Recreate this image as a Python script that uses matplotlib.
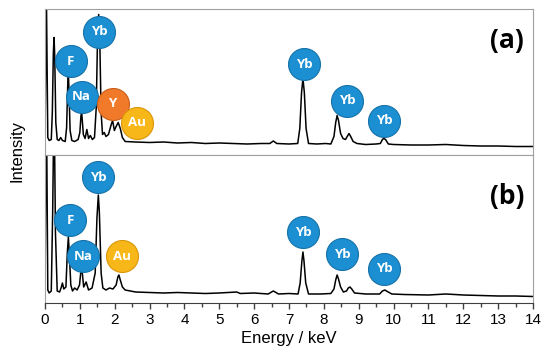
import matplotlib
matplotlib.use("Agg")
import matplotlib.pyplot as plt

# spectrum (a): energy (keV) and intensity (arb.)
energy_a = [0.00, 0.04, 0.08, 0.12, 0.18, 0.21, 0.24, 0.26, 0.28, 0.31, 0.35, 0.40, 0.45, 0.50,
            0.58, 0.62, 0.65, 0.67, 0.69, 0.72, 0.77, 0.85, 0.95, 1.00, 1.03, 1.05, 1.07, 1.10,
            1.15, 1.20, 1.25, 1.30, 1.36, 1.42, 1.47, 1.51, 1.54, 1.57, 1.61, 1.65, 1.70,
            1.75, 1.82, 1.90, 1.94, 1.99, 2.04, 2.10, 2.16, 2.22, 2.30, 2.60, 3.00, 3.40,
            3.80, 4.20, 4.60, 5.00, 5.40, 5.80, 6.20, 6.45, 6.55, 6.65, 7.00, 7.25, 7.31,
            7.36, 7.40, 7.44, 7.49, 7.56, 7.80, 8.05, 8.20, 8.29, 8.34, 8.38, 8.42, 8.48,
            8.55, 8.62, 8.67, 8.72, 8.77, 8.84, 8.95, 9.20, 9.50, 9.62, 9.68, 9.72, 9.77,
            9.85, 10.0, 10.5, 11.0, 11.5, 12.0, 12.5, 13.0, 13.5, 14.0]
intensity_a = [0, 150, 5, 2, 3, 30, 90, 105, 85, 20, 3, 2, 5, 2,
               1, 15, 55, 70, 50, 12, 2, 1, 3, 10, 26, 31, 22, 8,
               4, 13, 4, 7, 3, 5, 35, 110, 128, 105, 30, 8, 10,
               6, 8, 18, 22, 12, 16, 20, 14, 5, 1, 0.5, 0, 0.5,
               -0.5, 0, -1, -0.5, -1, -1.5, -1, -1, 1.5, -1, -1.5, -1, 14,
               50, 64, 50, 14, -1, -1.5, -1, -1.5, 6, 20, 27, 22, 9,
               4, 3, 6, 9, 6, 1, -1, -2, -1.5, -1, 3, 4, 3,
               -1.5, -2, -2.5, -2.5, -2, -3, -3.5, -3.5, -4, -4]

# spectrum (b)
energy_b = [0.00, 0.04, 0.08, 0.12, 0.18, 0.22, 0.26, 0.30, 0.35, 0.42, 0.47, 0.50, 0.54,
            0.60, 0.64, 0.67, 0.70, 0.74, 0.79, 0.85, 0.92, 0.99, 1.03, 1.05, 1.07, 1.11,
            1.18, 1.25, 1.35, 1.44, 1.49, 1.53, 1.56, 1.61, 1.66, 1.75, 1.85, 1.95, 2.04,
            2.09, 2.12, 2.16, 2.22, 2.30, 2.60, 3.00, 3.40, 3.80, 4.20, 4.60, 5.00, 5.50,
            5.60, 6.00, 6.40, 6.55, 6.70, 7.00, 7.26, 7.32, 7.37, 7.40, 7.43, 7.48, 7.56,
            7.90, 8.20, 8.29, 8.34, 8.38, 8.42, 8.48, 8.56, 8.65, 8.70, 8.75, 8.80, 8.88,
            9.20, 9.60, 9.68, 9.75, 9.82, 9.95, 10.3, 11.0, 11.5, 12.0, 12.5, 13.0, 13.5,
            14.0]
intensity_b = [0, 200, 3, 0, 2, 80, 200, 60, 2, 1, 6, 10, 4,
               6, 40, 56, 38, 8, 2, 5, 3, 8, 22, 26, 20, 6,
               11, 3, 5, 20, 75, 98, 80, 20, 5, 3, 5, 4, 8,
               16, 18, 13, 6, 3, 1, 0.5, 0, 0.5, 0, -0.5, 0, 1,
               -0.5, 0, -1, 2, -1, -0.5, -1, 10, 32, 41, 32, 10, -1,
               -1, -0.5, 4, 13, 18, 14, 6, 1, 2, 5, 6, 4, 0,
               -1, -1, 2, 3, 1.5, -1, -1.5, -2, -1, -2, -2.5, -3, -3,
               -3.5]

# element labels: (name, energy, intensity)
labels_a = [("F", 0.74, 81.5), ("Yb", 1.55, 111), ("Na", 1.05, 46), ("Y", 1.94, 39),
            ("Au", 2.65, 20), ("Yb", 7.43, 78.5), ("Yb", 8.66, 42), ("Yb", 9.73, 22)]
labels_b = [("Yb", 1.53, 116), ("F", 0.72, 73), ("Na", 1.10, 37), ("Au", 2.22, 37),
            ("Yb", 7.40, 61), ("Yb", 8.52, 39), ("Yb", 9.73, 24)]

colors = {"Y": ("#f07a2a", "#c85e1a"), "Au": ("#f8b719", "#d9960a")}
default_color = ("#1b8fd2", "#1672a8")

fig = plt.figure(figsize=(5.5, 3.62), dpi=100)
ax_a = fig.add_axes([45 / 550, 1 - 155 / 362, 488 / 550, 146 / 362])
ax_b = fig.add_axes([45 / 550, 1 - 303 / 362, 488 / 550, 148 / 362])

frame = "#a0a0a0"
for ax, e, i, labels, ylim, tag in [
    (ax_a, energy_a, intensity_a, labels_a, (-12.5, 133.5), "(a)"),
    (ax_b, energy_b, intensity_b, labels_b, (-10, 138), "(b)"),
]:
    ax.plot(e, i, color="black", lw=1.1)
    ax.set_xlim(0, 14)
    ax.set_ylim(*ylim)
    ax.set_yticks([])
    for sp in ax.spines.values():
        sp.set_color(frame)
    for name, x, y in labels:
        fc, ec = colors.get(name, default_color)
        ax.scatter([x], [y], s=530, color=fc, edgecolors=ec, linewidths=0.8,
                   zorder=5, clip_on=False)
        ax.text(x, y, name, ha="center", va="center", color="white",
                fontsize=9.5, fontweight="bold", family="Open Sans", zorder=6)
    ax.text(0.947, 0.785 if tag == "(a)" else 0.72, tag, transform=ax.transAxes,
            ha="center", va="center", fontsize=19, fontweight="bold",
            family="Open Sans")

ax_a.set_xticks([])
ax_b.spines["bottom"].set_color("#404040")
ax_b.set_xticks(range(0, 15))
ax_b.set_xticks([x + 0.5 for x in range(14)], minor=True)
ax_b.tick_params(axis="x", which="major", direction="out", length=4, width=1,
                 color="#404040", labelsize=11, pad=3)
ax_b.tick_params(axis="x", which="minor", direction="out", length=3, width=1,
                 color="#404040")
for lab in ax_b.get_xticklabels():
    lab.set_family("Liberation Sans")
ax_b.set_xlabel("Energy / keV", fontsize=12, family="Liberation Sans", labelpad=3)

fig.text(17 / 550, 1 - 151 / 362, "Intensity", rotation=90, ha="center",
         va="center", fontsize=12, family="Liberation Sans")

fig.savefig("out.png", dpi=100)
